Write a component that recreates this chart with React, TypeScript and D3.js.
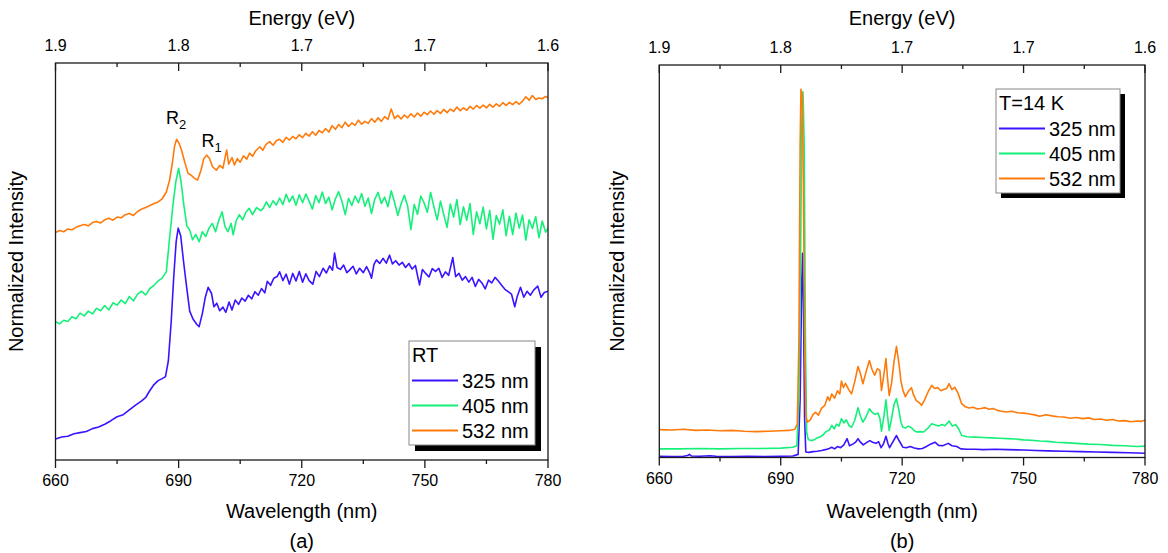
import React from "react";
import * as d3 from "d3";

// ---------- DATA ----------
const wavelengthTicks = [660, 690, 720, 750, 780];
const wavelengthMinorTicks = [675, 705, 735, 765];
const energyTickLabels = ["1.9", "1.8", "1.7", "1.7", "1.6"];
const seriesNames = ["325 nm", "405 nm", "532 nm"];
const seriesColors = ["#3a14ff", "#14f07a", "#ff7a0a"];

// Panel (a): room temperature, [wavelength nm, normalized intensity (offset)]
const rt325: [number, number][] = [
  [660, 5.3], [661.5, 5.8], [663, 6.0], [664.5, 6.6], [666, 6.9], [667.5, 7.2], [669, 7.9], [670.5, 8.3],
  [672, 9.0], [673.5, 9.9], [675, 10.9], [676.5, 11.4], [678, 12.6], [679.5, 13.8], [681, 14.9], [682, 15.8],
  [683, 17.5], [684, 19.0], [685, 20.0], [686, 20.5], [686.8, 21.0], [687.5, 25], [688.2, 35], [688.8, 46],
  [689.4, 55], [689.9, 58.4], [690.5, 56.5], [691.2, 50], [691.9, 44], [692.7, 37.5], [693.5, 35.5],
  [694.4, 34.2], [695.0, 33.6], [695.8, 37], [696.5, 41], [697.2, 43.5], [698.0, 42], [698.6, 38.6],
  [699.3, 39.5], [700.0, 37.6], [700.8, 38.5], [701.5, 37.2], [702.3, 39.8], [703, 37.8], [703.8, 40.3],
  [704.6, 39.2], [705.4, 40.8], [706.2, 40.0], [707, 41.5], [707.8, 40.6], [708.6, 42.4], [709.4, 41.5],
  [710.2, 43.2], [711.0, 42.1], [711.6, 45.0], [712.4, 44.0], [713.2, 45.8], [714.0, 46.2], [714.6, 47.4],
  [715.4, 45.2], [716.2, 46.8], [717, 44.3], [717.8, 47.0], [718.6, 45.1], [719.4, 47.5], [720.2, 44.8],
  [721, 46.9], [721.8, 45.2], [722.7, 44.3], [723.5, 47.5], [724.3, 46.2], [725.2, 48.3], [726, 47.1],
  [726.8, 48.9], [727.5, 47.8], [728, 52.1], [728.6, 48.5], [729.4, 48.0], [730.2, 49.1], [731, 47.2],
  [731.7, 47.9], [732.5, 48.8], [733.3, 46.9], [734.1, 48.3], [735, 47.2], [735.8, 48.7], [736.6, 47.0],
  [737.0, 45.8], [737.6, 49.3], [738.2, 50.4], [739, 49.5], [739.8, 50.8], [740.6, 49.6], [741.4, 51.6],
  [742.1, 49.4], [742.9, 50.2], [743.7, 49.1], [744.5, 49.8], [745.3, 48.5], [746.1, 49.5], [746.9, 48.1],
  [747.7, 49.0], [748.4, 45.5], [748.7, 44.1], [749.4, 48.0], [750.2, 47.0], [751, 46.1], [751.8, 48.2],
  [752.6, 47.5], [753.4, 48.3], [754.2, 46.0], [755, 47.4], [755.8, 46.5], [756.8, 51.0], [757.5, 46.2],
  [758.3, 47.0], [759.1, 45.3], [759.9, 46.2], [760.7, 44.8], [761.5, 46.0], [762.3, 43.7], [763.1, 45.5],
  [763.9, 44.6], [764.7, 43.1], [765.5, 45.3], [766.3, 44.6], [767.1, 46.0], [767.9, 45.1], [768.7, 44.0],
  [769.5, 43.0], [770.3, 42.4], [771.1, 41.8], [771.9, 38.6], [772.5, 41.2], [773.3, 43.5], [774.1, 41.0],
  [774.9, 42.5], [775.7, 41.5], [776.5, 42.8], [777.5, 43.8], [778.3, 41.0], [779.1, 42.2], [780, 42.5],
];

const rt405: [number, number][] = [
  [660, 34.8], [661, 34.3], [662, 35.2], [663, 34.9], [664, 36.1], [665, 35.6], [666, 37.0], [667, 36.3],
  [668, 37.5], [669, 36.8], [670, 38.2], [671, 37.6], [672, 38.9], [673, 37.8], [674, 39.6], [675, 39.0],
  [676, 40.3], [677, 39.4], [678, 41.2], [679, 40.1], [680, 41.8], [681, 42.5], [682, 41.6], [683, 43.2],
  [684, 44.0], [685, 45.1], [686, 45.8], [687, 47.4], [687.9, 57], [688.6, 64], [689.3, 70], [690.0, 73.5],
  [690.6, 70], [691.3, 64], [692.0, 59], [692.7, 57.9], [693.4, 55.5], [694.2, 56.8], [695.0, 55.0],
  [695.8, 57.5], [696.6, 56.3], [697.4, 58.4], [698.2, 59.6], [699, 57.5], [699.8, 60.4], [700.6, 62.5],
  [701.3, 58.8], [702.0, 57.5], [702.8, 59.6], [703.3, 56.7], [704.0, 60.2], [704.8, 61.8], [705.6, 60.5],
  [706.4, 62.4], [707.2, 63.4], [708, 61.8], [709, 63.6], [710, 62.8], [710.6, 63.4], [711.4, 65.0],
  [712.2, 63.6], [713, 65.3], [713.8, 64.2], [714.6, 66.0], [715.4, 64.3], [716.2, 66.9], [717, 65.0],
  [717.8, 66.5], [718.6, 64.2], [719.4, 66.8], [720.2, 64.8], [721, 67.0], [721.8, 65.2], [722.6, 63.2],
  [723.4, 66.6], [724.2, 64.8], [725, 67.5], [725.8, 64.6], [726.6, 66.2], [727.4, 63.0], [728.2, 65.8],
  [729, 67.6], [729.8, 65.1], [730.6, 61.8], [731.4, 65.9], [732.2, 64.1], [733, 66.5], [733.8, 64.8],
  [734.6, 67.1], [735.4, 63.9], [736.2, 66.0], [737, 62.1], [737.8, 65.7], [738.6, 67.4], [739.4, 64.6],
  [740.2, 66.2], [741, 63.8], [741.8, 67.8], [742.6, 65.0], [743.4, 61.6], [744.2, 64.5], [745, 66.7],
  [745.8, 64.0], [746.6, 58.0], [747.4, 64.4], [748.2, 61.9], [749, 66.5], [749.8, 64.8], [750.6, 62.4],
  [751.4, 67.4], [752.2, 63.8], [753, 60.5], [753.8, 65.2], [754.6, 61.8], [755.4, 58.6], [756.2, 64.5],
  [757, 61.2], [757.8, 65.6], [758.6, 59.3], [759.4, 63.8], [760.2, 60.4], [761, 64.6], [761.8, 56.8],
  [762.6, 62.5], [763.4, 59.5], [764.2, 63.7], [765, 58.2], [765.8, 62.9], [766.6, 55.6], [767.4, 61.6],
  [768.2, 59.4], [769, 63.0], [769.8, 56.5], [770.6, 61.4], [771.4, 56.8], [772.2, 62.2], [773, 58.4],
  [773.8, 61.7], [774.6, 55.4], [775.4, 60.5], [776.2, 58.3], [777, 61.3], [777.8, 56.0], [778.6, 60.2],
  [779.4, 57.4], [780, 58.4],
];

const rt532: [number, number][] = [
  [660, 57.3], [661, 57.8], [662, 57.5], [663, 58.2], [664, 58.0], [665, 58.6], [666, 59.0], [667, 59.3],
  [668, 59.0], [669, 59.8], [670, 60.1], [671, 59.7], [672, 60.5], [673, 60.9], [674, 60.4], [675, 61.2],
  [676, 61.0], [677, 61.8], [678, 62.1], [679, 61.6], [680, 62.6], [681, 63.2], [682, 63.6], [683, 64.1],
  [684, 64.6], [685, 65.0], [686, 65.8], [687, 67.5], [687.8, 70.5], [688.5, 75], [689.0, 79], [689.5, 80.8],
  [690.1, 79.8], [690.7, 78.1], [691.5, 75.0], [692.3, 72.2], [693.0, 71.8], [693.8, 71.0], [694.6, 70.5],
  [695.4, 72.8], [696.1, 75.8], [696.8, 76.8], [697.5, 76.0], [698.3, 73.8], [699.2, 73.0], [700, 74.2],
  [700.8, 73.5], [701.7, 78.1], [702.2, 74.5], [703, 76.2], [703.6, 74.3], [704.3, 75.9], [705, 75.0],
  [705.8, 76.6], [706.6, 75.8], [707.3, 77.3], [708, 76.5], [708.8, 77.9], [709.8, 78.9], [710.5, 78.0],
  [711.3, 79.5], [712.2, 80.2], [713, 79.3], [713.8, 80.4], [714.6, 80.8], [715.4, 80.0], [716.2, 81.3],
  [717, 80.6], [717.8, 81.5], [718.6, 80.9], [719.4, 81.9], [720.2, 81.2], [721, 82.3], [721.8, 81.6],
  [722.6, 82.7], [723.4, 81.8], [724.2, 83.0], [725, 82.4], [725.8, 83.5], [726.6, 82.6], [727.4, 84.2],
  [728.2, 83.3], [729, 84.5], [729.8, 83.7], [730.6, 85.1], [731.4, 84.0], [732.2, 84.9], [733, 84.3],
  [733.8, 85.6], [734.6, 84.6], [735.4, 85.3], [736.2, 84.8], [737, 86.0], [737.8, 85.1], [738.6, 86.2],
  [739.4, 85.3], [740.2, 86.5], [741, 85.8], [741.8, 88.4], [742.6, 86.0], [743.4, 86.8], [744.2, 85.9],
  [745, 86.9], [745.8, 86.2], [746.6, 87.2], [747.4, 86.4], [748.2, 87.4], [749, 86.6], [749.8, 87.6],
  [750.6, 87.0], [751.4, 87.9], [752.2, 87.1], [753, 88.0], [753.8, 87.3], [754.6, 88.3], [755.4, 87.5],
  [756.2, 88.4], [757, 87.8], [757.8, 88.9], [758.6, 88.0], [759.4, 88.7], [760.2, 88.1], [761, 89.1],
  [761.8, 88.4], [762.6, 89.3], [763.4, 88.6], [764.2, 89.4], [765, 88.7], [765.8, 89.6], [766.6, 88.9],
  [767.4, 89.7], [768.2, 89.1], [769, 90.0], [769.8, 89.3], [770.6, 90.1], [771.4, 89.5], [772.2, 90.3],
  [773, 89.6], [773.8, 90.4], [774.6, 91.5], [775.4, 90.6], [776.2, 91.8], [777, 90.8], [777.8, 91.2],
  [778.6, 91.0], [779.4, 91.6], [780, 91.2],
];

// Panel (b): T = 14 K
const lt325: [number, number][] = [
  [660, 0.3], [663, 0.25], [666, 0.3], [667.0, 0.5], [667.4, 0.8], [667.9, 0.4], [670, 0.3], [672.5, 0.45],
  [674, 0.3], [678, 0.25], [682, 0.3], [686, 0.25], [690, 0.3], [693, 0.4], [694.3, 0.8], [694.8, 15],
  [695.2, 45], [695.4, 52], [695.6, 40], [695.9, 10], [696.2, 1.4], [697, 1.3], [698, 1.5], [699, 1.6],
  [700.1, 1.8], [701, 2.0], [702, 2.3], [702.6, 2.6], [703.3, 2.2], [704, 2.8], [704.8, 2.5], [705.6, 3.2],
  [706.4, 4.8], [707, 3.0], [707.8, 3.4], [708.5, 3.9], [709.1, 4.8], [709.7, 3.9], [710.4, 3.2], [711.2, 3.8],
  [712.0, 4.3], [712.7, 3.9], [713.5, 3.6], [714.2, 4.0], [714.8, 2.5], [715.4, 3.5], [716.0, 5.4], [716.5, 3.5],
  [716.9, 2.5], [717.6, 3.8], [718.6, 5.6], [719.3, 4.2], [720.2, 2.6], [721, 2.5], [722, 2.8], [723, 2.4],
  [724, 2.2], [725, 2.3], [726, 2.8], [727, 3.4], [728.1, 3.9], [729, 3.1], [730, 3.0], [731.4, 3.6],
  [732.3, 3.0], [733.5, 2.8], [734.5, 2.2], [736, 2.1], [738, 2.1], [740, 2.0], [743, 2.1], [746, 2.0],
  [750, 1.9], [753, 1.8], [756, 1.7], [760, 1.6], [764, 1.5], [768, 1.4], [772, 1.3], [776, 1.2], [780, 1.1],
];

const lt405: [number, number][] = [
  [660, 2.2], [665, 2.2], [670, 2.3], [675, 2.2], [680, 2.3], [685, 2.3], [690, 2.4], [693, 2.6], [694.0, 3.0],
  [694.5, 15], [694.9, 50], [695.2, 85], [695.5, 93.2], [695.8, 80], [696.1, 30], [696.4, 6.5], [696.8, 4.6],
  [697.5, 4.3], [698.3, 4.5], [699.0, 5.0], [699.7, 5.2], [700.5, 5.8], [701.2, 6.6], [702.0, 7.0], [702.6, 8.2],
  [703.2, 7.3], [703.8, 8.5], [704.4, 8.0], [705.0, 9.9], [705.6, 8.8], [706.2, 9.6], [706.9, 8.1], [707.5, 7.7],
  [708.3, 9.5], [709.1, 12.7], [709.7, 10.5], [710.3, 9.0], [711.0, 10.2], [711.9, 12.4], [712.6, 11.5],
  [713.3, 11.0], [714.0, 11.3], [714.5, 10.0], [714.9, 6.7], [715.5, 10.5], [716.0, 14.7], [716.4, 10.5],
  [716.8, 6.9], [717.4, 10.0], [718.0, 13.5], [718.6, 15.0], [719.2, 12.0], [719.7, 9.0], [720.2, 7.7],
  [720.8, 7.5], [721.5, 8.0], [722.3, 7.6], [723.0, 6.8], [723.6, 6.5], [724.5, 6.6], [725.3, 6.5], [726.3, 7.4],
  [727.3, 8.6], [728.2, 8.3], [729.0, 8.0], [729.8, 8.4], [730.6, 8.1], [731.6, 9.3], [732.4, 8.0], [733.2, 8.4],
  [734.0, 7.2], [734.7, 5.6], [736, 5.3], [738, 5.2], [740, 5.1], [742, 5.0], [744, 4.9], [746, 4.8], [748, 4.7],
  [750, 4.5], [752, 4.4], [754, 4.2], [756, 4.1], [758, 3.9], [760, 3.8], [763, 3.6], [766, 3.4], [769, 3.3],
  [772, 3.1], [775, 3.0], [778, 2.8], [780, 2.9],
];

const lt532: [number, number][] = [
  [660, 7.1], [663, 7.0], [666, 7.2], [669, 6.9], [672, 7.0], [675, 6.8], [678, 6.9], [681, 6.7], [684, 6.6],
  [687, 6.7], [690, 6.8], [692, 6.9], [693.5, 7.2], [694.1, 8.5], [694.5, 30], [694.8, 80], [695.0, 93.8],
  [695.3, 92.5], [695.6, 70], [695.9, 30], [696.2, 10.5], [696.6, 9.0], [697.3, 9.6], [698.0, 11.0], [698.6, 11.5],
  [699.3, 10.8], [700.1, 12.6], [700.9, 13.3], [701.6, 15.5], [702.1, 14.5], [702.6, 16.2], [703.3, 15.1],
  [704.0, 17.0], [704.6, 16.2], [705.0, 19.5], [705.5, 17.8], [706.0, 18.9], [706.8, 17.3], [707.5, 16.2],
  [708.3, 19.4], [709.1, 23.2], [709.8, 21.0], [710.3, 18.8], [711.0, 21.5], [711.9, 24.7], [712.6, 22.3],
  [713.2, 21.0], [713.9, 22.6], [714.5, 22.2], [714.9, 17.1], [715.4, 20.5], [716.0, 25.2], [716.4, 20.0],
  [716.8, 15.8], [717.4, 19.0], [718.0, 24.5], [718.6, 28.3], [719.2, 24.0], [719.7, 19.5], [720.2, 17.1],
  [720.8, 15.5], [721.5, 16.8], [722.3, 17.8], [722.8, 16.0], [723.5, 14.5], [724.2, 14.0], [724.8, 13.3],
  [725.6, 14.8], [726.4, 16.7], [727.3, 18.4], [728.0, 17.6], [728.8, 17.8], [729.6, 17.0], [730.4, 17.4],
  [731.0, 17.6], [731.6, 18.8], [732.3, 17.3], [733.0, 17.9], [733.8, 16.4], [734.7, 13.7], [735.5, 13.0],
  [736.5, 12.6], [737.5, 12.8], [738.5, 12.4], [739.5, 12.5], [740.5, 12.7], [741.5, 12.3], [742.5, 12.5],
  [743.5, 12.0], [744.5, 11.8], [745.8, 11.6], [747, 11.8], [748.5, 11.4], [750, 11.3], [751.5, 11.1],
  [753, 10.8], [754, 10.5], [755.5, 10.9], [757, 10.6], [758.5, 10.4], [760, 10.3], [761.5, 10.0], [763, 10.2],
  [764.6, 9.9], [766, 10.1], [767.5, 9.7], [769, 9.8], [770.5, 9.5], [772, 9.7], [773.5, 9.3], [775, 9.4],
  [776.5, 9.1], [778, 9.3], [779, 9.2], [780, 9.5],
];

// ---------- LAYOUT ----------
const FONT = "'Liberation Sans', Arial, sans-serif";

type Frame = { left: number; right: number; top: number; bottom: number };

interface PanelProps {
  id: string;
  frame: Frame;
  series: [number, number][][];
  legendTitle: string;
  legendBox: { x: number; y: number; w: number; h: number; shadow: number };
  panelLabel: string;
  yTitleX: number;
  children?: React.ReactNode;
}

function Panel({ id, frame, series, legendTitle, legendBox, panelLabel, yTitleX, children }: PanelProps) {
  const x = d3.scaleLinear().domain([660, 780]).range([frame.left, frame.right]);
  const y = d3.scaleLinear().domain([0, 100]).range([frame.bottom, frame.top]);
  const line = d3
    .line<[number, number]>()
    .x((d) => x(d[0]))
    .y((d) => y(d[1]));
  const cx = (frame.left + frame.right) / 2;
  const cy = (frame.top + frame.bottom) / 2;
  const lb = legendBox;
  const axisColor = "#1a1a1a";
  return (
    <g>
      <defs>
        <clipPath id={`clip-${id}`}>
          <rect x={frame.left} y={frame.top} width={frame.right - frame.left} height={frame.bottom - frame.top} />
        </clipPath>
      </defs>
      <g clipPath={`url(#clip-${id})`}>
        {series.map((s, i) => (
          <path key={i} d={line(s) || ""} fill="none" stroke={seriesColors[i]} strokeWidth={1.6} strokeLinejoin="round" />
        ))}
      </g>
      <rect
        x={frame.left}
        y={frame.top}
        width={frame.right - frame.left}
        height={frame.bottom - frame.top}
        fill="none"
        stroke={axisColor}
        strokeWidth={1.3}
      />
      {wavelengthTicks.map((t) => (
        <line key={`bt${t}`} x1={x(t)} x2={x(t)} y1={frame.bottom} y2={frame.bottom + 8} stroke={axisColor} strokeWidth={1.3} />
      ))}
      {wavelengthMinorTicks.map((t) => (
        <line key={`bm${t}`} x1={x(t)} x2={x(t)} y1={frame.bottom} y2={frame.bottom + 4} stroke={axisColor} strokeWidth={1.3} />
      ))}
      {wavelengthTicks.map((t) => (
        <text key={`bl${t}`} x={x(t)} y={frame.bottom + 26} textAnchor="middle" fontSize={16} fontFamily={FONT} fill="#000">
          {t}
        </text>
      ))}
      {wavelengthTicks.map((t) => (
        <line key={`tt${t}`} x1={x(t)} x2={x(t)} y1={frame.top} y2={frame.top + 8} stroke={axisColor} strokeWidth={1.3} />
      ))}
      {wavelengthMinorTicks.map((t) => (
        <line key={`tm${t}`} x1={x(t)} x2={x(t)} y1={frame.top} y2={frame.top + 4} stroke={axisColor} strokeWidth={1.3} />
      ))}
      {wavelengthTicks.map((t, i) => (
        <text key={`tl${t}`} x={x(t)} y={frame.top - 12} textAnchor="middle" fontSize={16} fontFamily={FONT} fill="#000">
          {energyTickLabels[i]}
        </text>
      ))}
      <text x={cx} y={25} textAnchor="middle" fontSize={20} fontFamily={FONT} fill="#000">
        Energy (eV)
      </text>
      <text x={cx} y={518} textAnchor="middle" fontSize={20} fontFamily={FONT} fill="#000">
        Wavelength (nm)
      </text>
      <text x={cx} y={548} textAnchor="middle" fontSize={20} fontFamily={FONT} fill="#000">
        {panelLabel}
      </text>
      <text
        transform={`translate(${yTitleX},${cy}) rotate(-90)`}
        textAnchor="middle"
        fontSize={20}
        fontFamily={FONT}
        fill="#000"
      >
        Normalized Intensity
      </text>
      <rect x={lb.x + lb.shadow} y={lb.y + lb.shadow} width={lb.w} height={lb.h} fill="#000" />
      <rect x={lb.x} y={lb.y} width={lb.w} height={lb.h} fill="#fff" stroke="#888" strokeWidth={1} />
      <text x={lb.x + 3} y={lb.y + 21} fontSize={20} fontFamily={FONT} fill="#000">
        {legendTitle}
      </text>
      {seriesNames.map((n, i) => (
        <g key={n}>
          <line
            x1={lb.x + 3}
            x2={lb.x + 49}
            y1={lb.y + 39.5 + i * 25}
            y2={lb.y + 39.5 + i * 25}
            stroke={seriesColors[i]}
            strokeWidth={1.8}
          />
          <text x={lb.x + 53} y={lb.y + 46.5 + i * 25} fontSize={20} fontFamily={FONT} fill="#000">
            {n}
          </text>
        </g>
      ))}
      {children}
    </g>
  );
}

export default function App() {
  return (
    <svg
      width={1168}
      height={553}
      style={{ position: "absolute", left: 0, top: 0, background: "#fff" }}
      xmlns="http://www.w3.org/2000/svg"
    >
      <Panel
        id="a"
        frame={{ left: 55.5, right: 548, top: 63, bottom: 460 }}
        series={[rt325, rt405, rt532]}
        legendTitle="RT"
        legendBox={{ x: 409, y: 341, w: 126, h: 104, shadow: 6 }}
        panelLabel="(a)"
        yTitleX={23}
      >
        <text x={166} y={124} fontSize={18} fontFamily={FONT} fill="#000">
          R<tspan fontSize={13} dy={5}>2</tspan>
        </text>
        <text x={201.5} y={147} fontSize={18} fontFamily={FONT} fill="#000">
          R<tspan fontSize={13} dy={5}>1</tspan>
        </text>
      </Panel>
      <Panel
        id="b"
        frame={{ left: 659.3, right: 1145, top: 65, bottom: 457.5 }}
        series={[lt325, lt405, lt532]}
        legendTitle="T=14 K"
        legendBox={{ x: 996, y: 89, w: 124, h: 104, shadow: 5 }}
        panelLabel="(b)"
        yTitleX={624}
      />
    </svg>
  );
}
